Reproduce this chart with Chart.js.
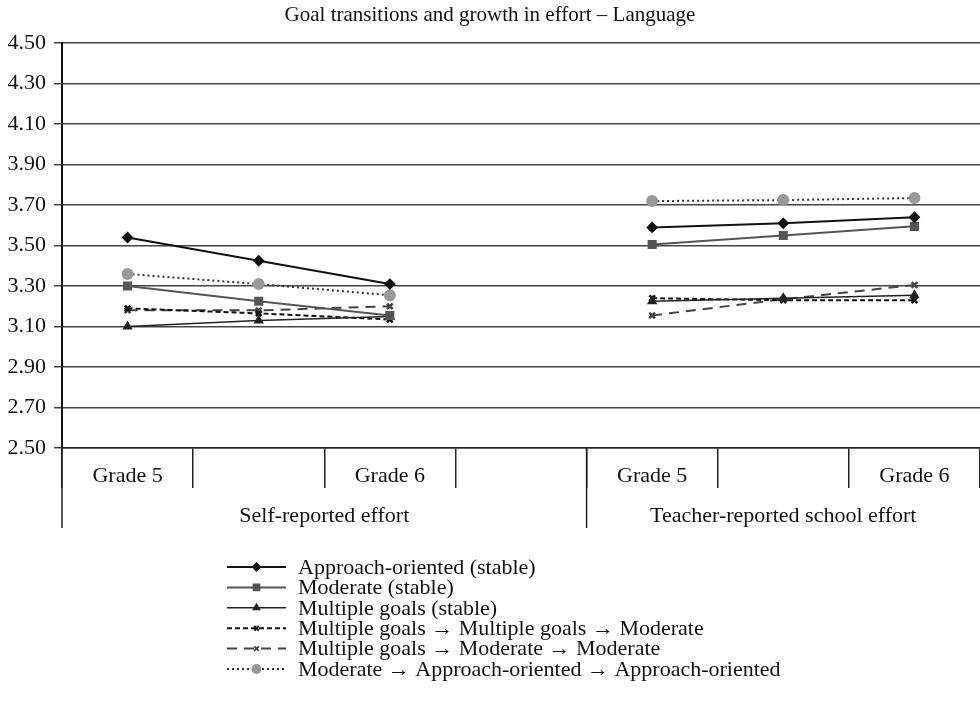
<!DOCTYPE html>
<html>
<head>
<meta charset="utf-8">
<title>Goal transitions and growth in effort – Language</title>
<script src="https://cdn.jsdelivr.net/npm/chart.js@4.4.1/dist/chart.umd.min.js"></script>
<style>
  body { margin: 0; background: #fff; }
  canvas { display: block; }
</style>
</head>
<body>
<canvas id="effortChart" width="980" height="705"></canvas>
<script>
// x categories: three time points per block, empty slot between the blocks
const xLabels = ['Grade 5', '', 'Grade 6', '', 'Grade 5', '', 'Grade 6'];
const groupLabels = ['Self-reported effort', 'Teacher-reported school effort'];

const seriesNames = [
    'Approach-oriented (stable)',
    'Moderate (stable)',
    'Multiple goals (stable)',
    'Multiple goals \u2192 Multiple goals \u2192 Moderate',
    'Multiple goals \u2192 Moderate \u2192 Moderate',
    'Moderate \u2192 Approach-oriented \u2192 Approach-oriented'
];

// self-reported effort (Grade 5, middle, Grade 6)
const selfApproach = [3.54, 3.425, 3.31];
const selfModerate = [3.30, 3.225, 3.155];
const selfMultiple = [3.10, 3.13, 3.15];
const selfMultMultMod = [3.19, 3.165, 3.135];
const selfMultModMod = [3.18, 3.18, 3.20];
const selfModAppApp = [3.36, 3.31, 3.255];

// teacher-reported school effort
const teacherApproach = [3.59, 3.61, 3.64];
const teacherModerate = [3.505, 3.55, 3.595];
const teacherMultiple = [3.225, 3.24, 3.255];
const teacherMultMultMod = [3.24, 3.23, 3.23];
const teacherMultModMod = [3.155, 3.235, 3.305];
const teacherModAppApp = [3.72, 3.725, 3.735];

const serif = "'Liberation Serif', 'Times New Roman', serif";

const join = (a, b) => [...a, null, ...b];

const datasets = [
    {
        label: seriesNames[0], data: join(selfApproach, teacherApproach),
        borderColor: '#111', backgroundColor: '#111', borderWidth: 2,
        pointStyle: 'rectRot', pointRadius: 4.5
    },
    {
        label: seriesNames[1], data: join(selfModerate, teacherModerate),
        borderColor: '#555', backgroundColor: '#555', borderWidth: 2,
        pointStyle: 'rect', pointRadius: 5
    },
    {
        label: seriesNames[2], data: join(selfMultiple, teacherMultiple),
        borderColor: '#222', backgroundColor: '#222', borderWidth: 1.5,
        pointStyle: 'triangle', pointRadius: 4.5
    },
    {
        label: seriesNames[3], data: join(selfMultMultMod, teacherMultMultMod),
        borderColor: '#111', backgroundColor: '#111', borderWidth: 2,
        borderDash: [5, 3], pointStyle: 'crossRot', pointRadius: 4, pointBorderWidth: 2.5
    },
    {
        label: seriesNames[4], data: join(selfMultModMod, teacherMultModMod),
        borderColor: '#444', backgroundColor: '#444', borderWidth: 2,
        borderDash: [10, 7], pointStyle: 'crossRot', pointRadius: 4, pointBorderWidth: 2.5
    },
    {
        label: seriesNames[5], data: join(selfModAppApp, teacherModAppApp),
        borderColor: '#333', backgroundColor: '#999', borderWidth: 2,
        borderDash: [2, 3], pointStyle: 'circle', pointRadius: 5,
        pointBorderColor: '#999'
    }
];

// group labels under the x axis + long separator lines
const groupPlugin = {
    id: 'groups',
    afterDraw(chart) {
        const ctx = chart.ctx;
        const area = chart.chartArea;
        const x = chart.scales.x;
        const split = (x.getPixelForValue(3) + x.getPixelForValue(4)) / 2;
        const lineEnd = area.bottom + 80;
        ctx.save();
        ctx.strokeStyle = '#222';
        ctx.lineWidth = 1.5;
        [area.left, split].forEach(px => {
            ctx.beginPath();
            ctx.moveTo(px, area.bottom);
            ctx.lineTo(px, lineEnd);
            ctx.stroke();
        });
        ctx.fillStyle = '#111';
        ctx.font = '22px ' + serif;
        ctx.textAlign = 'center';
        ctx.textBaseline = 'middle';
        ctx.fillText(groupLabels[0], (area.left + split) / 2, area.bottom + 68);
        ctx.fillText(groupLabels[1], (split + area.right) / 2, area.bottom + 68);
        ctx.restore();
    }
};

// vertical legend below the chart
const legendPlugin = {
    id: 'stackLegend',
    afterDraw(chart) {
        const ctx = chart.ctx;
        const top = chart.chartArea.bottom + 119;
        const rowH = 20.4;
        const x0 = 227, x1 = 286, tx = 298;
        ctx.save();
        chart.data.datasets.forEach((ds, i) => {
            const y = top + i * rowH;
            ctx.strokeStyle = ds.borderColor;
            ctx.lineWidth = ds.borderWidth;
            ctx.setLineDash(ds.borderDash || []);
            ctx.beginPath();
            ctx.moveTo(x0, y);
            ctx.lineTo(x1, y);
            ctx.stroke();
            ctx.setLineDash([]);
            ctx.fillStyle = ds.backgroundColor;
            ctx.strokeStyle = ds.pointBorderColor || ds.borderColor;
            Chart.helpers.drawPoint(ctx, {
                pointStyle: ds.pointStyle,
                radius: ds.pointRadius * 0.8,
                borderWidth: ds.pointBorderWidth || 1,
                rotation: 0
            }, (x0 + x1) / 2, y);
            ctx.fillStyle = '#111';
            ctx.font = '22px ' + serif;
            ctx.textAlign = 'left';
            ctx.textBaseline = 'middle';
            ctx.fillText(ds.label, tx, y + 1);
        });
        ctx.restore();
    }
};

new Chart(document.getElementById('effortChart'), {
    type: 'line',
    data: { labels: xLabels, datasets: datasets },
    plugins: [groupPlugin, legendPlugin],
    options: {
        responsive: false,
        animation: false,
        spanGaps: false,
        layout: {
            autoPadding: false,
            padding: { top: 0, right: 0, left: 0, bottom: 177 }
        },
        plugins: {
            legend: { display: false },
            tooltip: { enabled: false },
            title: {
                display: true,
                text: 'Goal transitions and growth in effort \u2013 Language',
                color: '#111',
                font: { family: serif, size: 21, weight: 'normal' },
                padding: { top: 3, bottom: 15 }
            }
        },
        scales: {
            x: {
                type: 'category',
                offset: true,
                afterFit: scale => {
                    scale.height = 80;
                    scale.paddingRight = 0;
                    scale.paddingLeft = 0;
                },
                grid: {
                    offset: true,
                    drawOnChartArea: false,
                    drawTicks: true,
                    tickLength: 40,
                    color: '#222',
                    lineWidth: 1.5
                },
                border: { display: true, color: '#222', width: 1.5 },
                ticks: {
                    color: '#111',
                    font: { family: serif, size: 22 },
                    padding: -25,
                    autoSkip: false,
                    maxRotation: 0
                }
            },
            y: {
                min: 2.5,
                max: 4.5,
                afterFit: scale => { scale.width = 62; },
                grid: { color: '#444', lineWidth: 1.5, tickLength: 8 },
                border: { display: true, color: '#111', width: 2 },
                ticks: {
                    stepSize: 0.2,
                    color: '#111',
                    padding: 8,
                    font: { family: serif, size: 22 },
                    callback: v => v.toFixed(2)
                }
            }
        }
    }
});
</script>
</body>
</html>
